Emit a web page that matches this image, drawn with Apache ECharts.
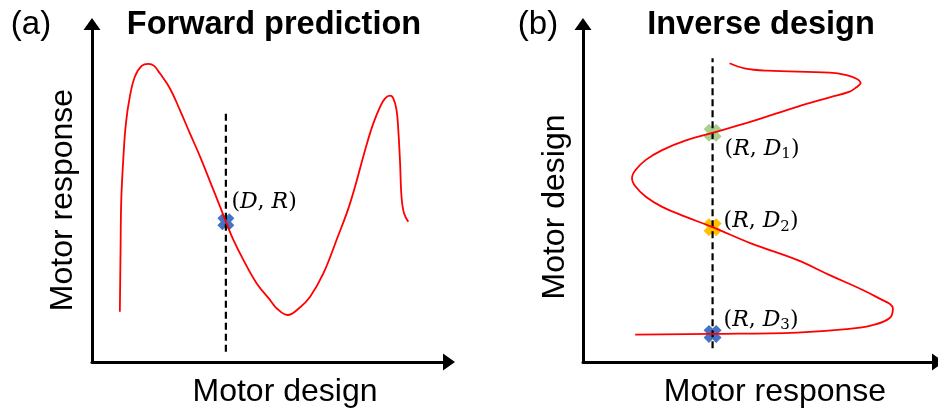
<!DOCTYPE html>
<html>
<head>
<meta charset="utf-8">
<script src="https://cdn.jsdelivr.net/npm/echarts@6/dist/echarts.min.js"></script>
<style>
html,body{margin:0;padding:0;background:#fff;}
#chart{width:938px;height:414px;}
</style>
</head>
<body>
<div id="chart"></div>
<script>
// ---------- Data (arbitrary normalized units 0-100) ----------
// Panel (a): Forward prediction  (x = motor design, y = motor response)
const forwardDesign   = [7.8, 8.0, 8.2, 8.8, 9.5, 10.6, 12.0, 13.9, 15.8, 17.4, 19.0, 21.8, 24.6, 27.4, 30.3, 33.1, 35.9, 37.5, 39.6, 42.4, 46.1, 49.9, 51.7, 54.8, 58.0, 61.1, 64.8, 68.5, 72.3, 76.9, 78.8, 80.7, 82.1, 83.5, 84.4, 85.3, 85.8, 86.3, 86.7, 87.4, 88.6];
const forwardResponse = [14.9, 33.1, 47.9, 60.7, 70.6, 78.5, 84.4, 87.6, 88.2, 87.6, 85.4, 81.0, 74.6, 67.7, 60.7, 53.3, 45.9, 41.5, 36.1, 30.2, 23.3, 18.3, 15.9, 13.9, 15.9, 19.3, 26.2, 36.1, 47.0, 64.2, 70.6, 75.5, 78.0, 78.8, 78.0, 74.6, 68.6, 58.8, 48.9, 44.0, 41.5];
const forwardQueryDesign = 37.5;
const forwardQueryResponse = 41.5;
const forwardProbeRange = [3.0, 73.7];

// Panel (b): Inverse design  (x = motor response, y = motor design)
const inverseResponse = [41.3, 45.5, 51.9, 69.5, 74.2, 76.9, 78.2, 76.9, 75.1, 69.5, 60.3, 47.3, 36.5, 28.8, 22.3, 17.7, 14.8, 13.8, 14.8, 17.7, 22.3, 28.8, 36.5, 47.3, 60.3, 69.5, 78.8, 84.4, 86.4, 87.3, 86.4, 81.6, 74.2, 60.3, 36.5, 14.7];
const inverseDesign   = [88.4, 86.9, 86.2, 85.6, 84.9, 83.9, 82.6, 81.2, 80.0, 78.3, 75.5, 71.1, 67.8, 65.5, 62.7, 59.8, 56.8, 54.4, 51.9, 48.9, 45.9, 43.0, 39.9, 35.1, 30.2, 25.7, 21.3, 18.3, 17.2, 15.9, 13.0, 10.9, 9.7, 8.7, 8.3, 8.1];
const inverseQueryResponse = 36.5;
const inverseSolutions = [67.8, 39.9, 8.3];
const inverseProbeRange = [4.1, 89.9];

const solutionLabels = ['1', '2', '3'];
const solutionColors = ['#A9D18E', '#FFC000', '#4472C4'];

// ---------- Styling ----------
const XMARK = 'path://M3,0L5,2L7,0L10,3L8,5L10,7L7,10L5,8L3,10L0,7L2,5L0,3Z';
const MATH = 'DejaVu Serif';
const rich = {
  p: {fontFamily: MATH, fontSize: 22, color: '#000', lineHeight: 26},
  i: {fontFamily: MATH, fontSize: 22, fontStyle: 'italic', color: '#000', lineHeight: 26},
  s: {fontFamily: MATH, fontSize: 15, color: '#000', lineHeight: 15, verticalAlign: 'bottom'}
};

function axis(gridIndex) {
  return {
    type: 'value', gridIndex: gridIndex, min: 0, max: 100,
    axisLine: {show: true, onZero: false, symbol: ['none', 'triangle'], symbolSize: [17, 12],
      lineStyle: {color: '#000', width: 3}},
    axisTick: {show: false}, axisLabel: {show: false}, splitLine: {show: false}
  };
}

const chart = echarts.init(document.getElementById('chart'), null, {renderer: 'canvas'});
const option = {
  animation: false,
  backgroundColor: '#fff',
  grid: [
    {left: 92, top: 24, width: 357, height: 338},
    {left: 583, top: 24, width: 360, height: 338}
  ],
  xAxis: [axis(0), axis(1)],
  yAxis: [axis(0), axis(1)],
  graphic: [
    {type: 'text', x: 31, y: 25, style: {text: '(a)', font: '33px "Liberation Sans"', fill: '#000', align: 'center', verticalAlign: 'middle'}},
    {type: 'text', x: 274, y: 25, style: {text: 'Forward prediction', font: 'bold 32.5px "Liberation Sans"', fill: '#000', align: 'center', verticalAlign: 'middle'}},
    {type: 'text', x: 285, y: 392, style: {text: 'Motor design', font: '32px "Liberation Sans"', fill: '#000', align: 'center', verticalAlign: 'middle'}},
    {type: 'text', x: 63, y: 200, rotation: Math.PI / 2, style: {text: 'Motor response', font: '32px "Liberation Sans"', fill: '#000', align: 'center', verticalAlign: 'middle'}},
    {type: 'text', x: 538, y: 25, style: {text: '(b)', font: '33px "Liberation Sans"', fill: '#000', align: 'center', verticalAlign: 'middle'}},
    {type: 'text', x: 761, y: 25, style: {text: 'Inverse design', font: 'bold 32.5px "Liberation Sans"', fill: '#000', align: 'center', verticalAlign: 'middle'}},
    {type: 'text', x: 775, y: 392, style: {text: 'Motor response', font: '32px "Liberation Sans"', fill: '#000', align: 'center', verticalAlign: 'middle'}},
    {type: 'text', x: 555, y: 207, rotation: Math.PI / 2, style: {text: 'Motor design', font: '32px "Liberation Sans"', fill: '#000', align: 'center', verticalAlign: 'middle'}}
  ],
  series: [
    // Panel a
    {type: 'line', xAxisIndex: 0, yAxisIndex: 0, symbol: 'none', silent: true,
      data: forwardProbeRange.map(v => [forwardQueryDesign, v]),
      lineStyle: {color: '#000', width: 2.2, type: [7, 4]}},
    {type: 'line', xAxisIndex: 0, yAxisIndex: 0, symbol: 'none', smooth: 0.4, smoothConstraint: false,
      data: forwardDesign.map((d, k) => [d, forwardResponse[k]]),
      lineStyle: {color: '#FF0000', width: 1.8}},
    {type: 'scatter', xAxisIndex: 0, yAxisIndex: 0, symbol: XMARK, symbolSize: 17,
      itemStyle: {color: '#4472C4', opacity: 1},
      data: [{value: [forwardQueryDesign, forwardQueryResponse],
        label: {show: true, position: 'right', distance: 0, offset: [-3, -19],
          formatter: '{p|(}{i|D}{p|, }{i|R}{p|)}', rich: rich}}]},
    // Panel b
    {type: 'line', xAxisIndex: 1, yAxisIndex: 1, symbol: 'none', silent: true,
      data: inverseProbeRange.map(v => [inverseQueryResponse, v]),
      lineStyle: {color: '#000', width: 2.2, type: [7, 4]}},
    {type: 'line', xAxisIndex: 1, yAxisIndex: 1, symbol: 'none', smooth: 0.4, smoothConstraint: false,
      data: inverseResponse.map((r, k) => [r, inverseDesign[k]]),
      lineStyle: {color: '#FF0000', width: 1.8}},
    {type: 'scatter', xAxisIndex: 1, yAxisIndex: 1, symbol: XMARK, symbolSize: 18,
      data: inverseSolutions.map((d, k) => ({
        value: [inverseQueryResponse, d],
        itemStyle: {color: solutionColors[k], opacity: 1},
        label: {show: true, position: 'right', distance: 0,
          offset: [[3, 16], [2, -6], [2, -14]][k],
          formatter: '{p|(}{i|R}{p|, }{i|D}{s|' + solutionLabels[k] + '}{p|)}', rich: rich}
      }))}
  ]
};
chart.setOption(option);
</script>
</body>
</html>
